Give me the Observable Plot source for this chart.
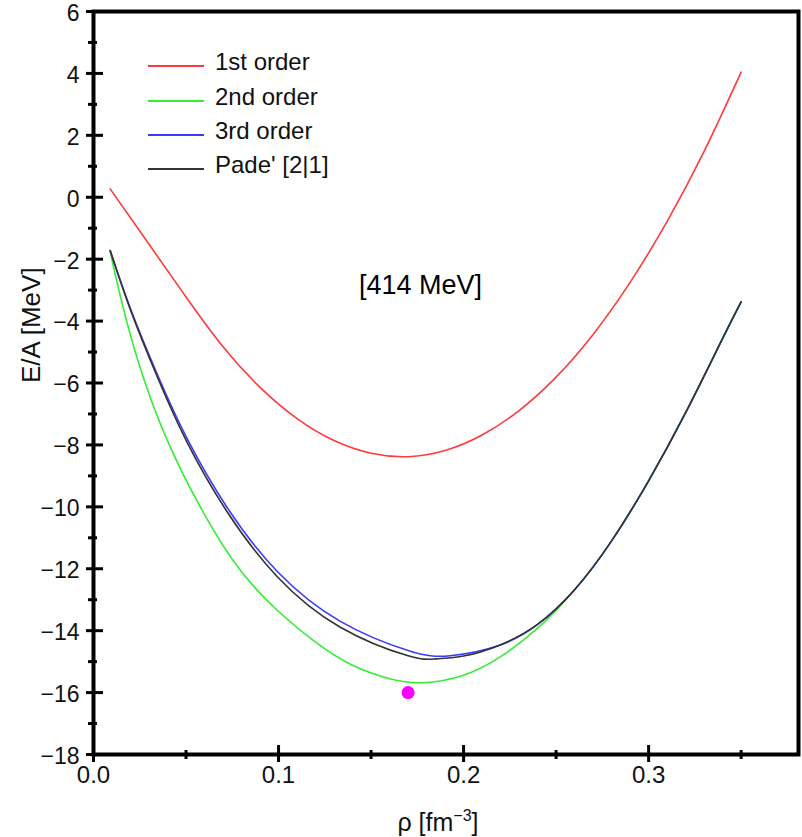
<!DOCTYPE html>
<html>
<head>
<meta charset="utf-8">
<script src="https://cdn.jsdelivr.net/npm/d3@7"></script>
<script src="https://cdn.jsdelivr.net/npm/@observablehq/plot@0.6"></script>
<style>
  html, body { margin: 0; padding: 0; background: #fff; }
  #wrap { position: relative; width: 802px; height: 837px; font-family: "Liberation Sans", Arial, Helvetica, sans-serif; }
  #legend { position: absolute; left: 0; top: 0; }
  .item { position: absolute; left: 148px; height: 2px; }
  .item .ln { position: absolute; left: 0; top: 0; width: 56px; height: 1.5px; }
  .item .lb { position: absolute; left: 67px; top: -17px; font-size: 24px; line-height: 28px; white-space: nowrap; color: #111; }
  svg [aria-label="frame"], svg [aria-label="frame"] * { stroke-width: 4px; }
  svg [aria-label$="axis tick"], svg [aria-label$="axis tick"] * { stroke-width: 3px; }
</style>
</head>
<body>
<div id="wrap"></div>
<script>
// ---- data ----
const seriesNames  = ["1st order", "2nd order", "3rd order", "Pade' [2|1]"];
const seriesColors = ["#ff3a3a", "#33ee33", "#3a3aff", "#333333"];

const rho1st = [0.009, 0.03, 0.05, 0.07, 0.09, 0.11, 0.13, 0.15, 0.17, 0.19, 0.21, 0.23, 0.25, 0.27, 0.29, 0.31, 0.33, 0.35];
const e1st   = [0.27, -1.52, -3.22, -4.83, -6.14, -7.15, -7.86, -8.27, -8.38, -8.18, -7.68, -6.89, -5.81, -4.43, -2.75, -0.78, 1.48, 4.04];

const rho2nd = [0.009, 0.015, 0.025, 0.04, 0.06, 0.08, 0.10, 0.12, 0.14, 0.16, 0.178, 0.20, 0.22, 0.24, 0.26, 0.28, 0.30, 0.32, 0.34, 0.35];
const e2nd   = [-1.75, -3.32, -5.47, -7.87, -10.25, -12.10, -13.38, -14.37, -15.12, -15.55, -15.68, -15.44, -14.84, -13.92, -12.68, -11.10, -9.16, -6.96, -4.56, -3.38];

const rho3rd = [0.009, 0.02, 0.0344, 0.0506, 0.0722, 0.0992, 0.1334, 0.17, 0.1928, 0.2198, 0.24, 0.26, 0.28, 0.30, 0.32, 0.34, 0.35];
const e3rd   = [-1.72, -3.60, -5.71, -7.80, -10.02, -12.08, -13.70, -14.64, -14.81, -14.46, -13.80, -12.68, -11.10, -9.16, -6.96, -4.56, -3.38];

const rhoPade = [0.009, 0.02, 0.0344, 0.0506, 0.0722, 0.0992, 0.1334, 0.17, 0.185, 0.20, 0.2198, 0.24, 0.26, 0.28, 0.30, 0.32, 0.34, 0.35];
const ePade   = [-1.72, -3.64, -5.79, -7.92, -10.16, -12.25, -13.89, -14.81, -14.91, -14.82, -14.46, -13.80, -12.68, -11.10, -9.16, -6.96, -4.56, -3.38];

const empRho = [0.17];
const empE   = [-16];

const xMajor = [0, 0.1, 0.2, 0.3];
const xMinor = [0.05, 0.15, 0.25, 0.35];
const yMajor = [-18, -16, -14, -12, -10, -8, -6, -4, -2, 0, 2, 4, 6];
const yMinor = [-17, -15, -13, -11, -9, -7, -5, -3, -1, 1, 3, 5];

const annotation = "[414 MeV]";
const xLabel = "ρ [fm−3]";
const yLabel = "E/A [MeV]";

// ---- build table ----
const seriesX = [rho1st, rho2nd, rho3rd, rhoPade];
const seriesY = [e1st, e2nd, e3rd, ePade];
const rows = seriesNames.flatMap((name, i) => seriesX[i].map((r, j) => ({series: name, rho: r, e: seriesY[i][j]})));
const emp = empRho.map((r, i) => ({rho: r, e: empE[i]}));

const font = "Liberation Sans, Arial, Helvetica, sans-serif";

const chart = Plot.plot({
  width: 802,
  height: 837,
  marginLeft: 93,
  marginRight: 4,
  marginTop: 11,
  marginBottom: 83,
  style: {fontFamily: font, background: "#fff", color: "#111"},
  x: {domain: [0, 0.381]},
  y: {domain: [-18, 6]},
  color: {domain: seriesNames, range: seriesColors},
  marks: [
    Plot.line(rows, {x: "rho", y: "e", z: "series", stroke: "series", strokeWidth: 1.6, curve: "natural"}),
    Plot.dot(emp, {x: "rho", y: "e", r: 6.5, fill: "#ff00ff", stroke: "none"}),
    Plot.frame({stroke: "#000", strokeWidth: 4}),
    Plot.axisY({ticks: yMajor, tickSize: 17, dx: 10, fill: "none", stroke: "#000", strokeWidth: 3, label: null}),
    Plot.axisY({ticks: yMinor, tickSize: 9, dx: 4, fill: "none", stroke: "#000", strokeWidth: 3, label: null}),
    Plot.axisY({ticks: yMajor, tickSize: 0, tickPadding: 14, dy: 2, fontSize: 23, fill: "#111", label: null}),
    Plot.axisX({ticks: xMajor, tickSize: 17, dy: -9, fill: "none", stroke: "#000", strokeWidth: 3, label: null}),
    Plot.axisX({ticks: xMinor, tickSize: 9, dy: -4, fill: "none", stroke: "#000", strokeWidth: 3, label: null}),
    Plot.axisX({ticks: xMajor, tickFormat: d3.format(".1f"), tickSize: 0, tickPadding: 11, fontSize: 24, fill: "#111", label: null}),
    Plot.text([annotation], {text: d => d, frameAnchor: "top-left", dx: 327, dy: 274, lineAnchor: "middle", fontSize: 27, fill: "#000", textAnchor: "middle"}),
    Plot.text([yLabel], {text: d => d, frameAnchor: "left", dx: -62, rotate: -90, fontSize: 26, fill: "#111"}),
    Plot.text([xLabel], {text: d => d, frameAnchor: "bottom", dx: -8, dy: 68, lineAnchor: "middle", fontSize: 25, fill: "#111"})
  ]
});

// superscript for the x label
d3.select(chart).selectAll("text").filter(function() { return this.textContent === xLabel; })
  .each(function() {
    const t = d3.select(this);
    t.text(null);
    t.append("tspan").text("ρ [fm");
    t.append("tspan").attr("dy", "-10").attr("font-size", "16").text("−3");
    t.append("tspan").attr("dy", "10").text("]");
  });

const wrap = document.getElementById("wrap");
wrap.appendChild(chart);

// legend overlay
const legend = document.createElement("div");
legend.id = "legend";
const legendY = [65, 100, 134, 168];
seriesNames.forEach((name, i) => {
  const it = document.createElement("div");
  it.className = "item";
  it.style.top = legendY[i] + "px";
  it.innerHTML = `<div class="ln" style="background:${seriesColors[i]}"></div><div class="lb">${name}</div>`;
  legend.appendChild(it);
});
wrap.appendChild(legend);
</script>
</body>
</html>
